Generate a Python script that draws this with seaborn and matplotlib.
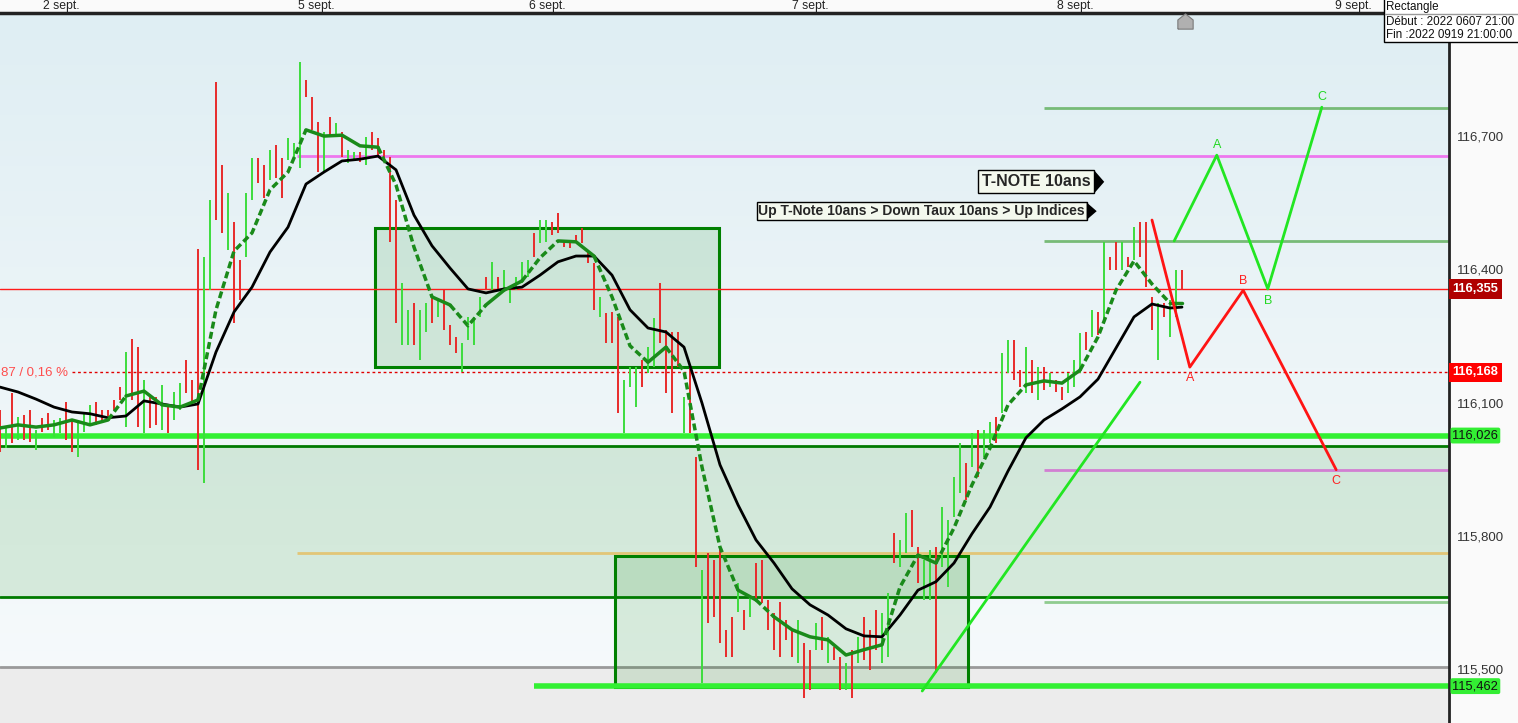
import numpy as np
import matplotlib
matplotlib.use("Agg")
import matplotlib.pyplot as plt
import seaborn as sns
from matplotlib.colors import LinearSegmentedColormap
from matplotlib.patches import Rectangle, Polygon
from matplotlib.lines import Line2D
from matplotlib.path import Path

# ---------------- data (T-Note 10 ans, bars every ~30 min) ----------------
highs = [
    116.084, 116.045, 116.122, 116.068, 116.072, 116.084, 116.039, 116.065, 116.077, 116.061,
    116.065, 116.101, 116.061, 116.061, 116.079, 116.095, 116.101, 116.084, 116.084, 116.106,
    116.135, 116.214, 116.243, 116.225, 116.151, 116.117, 116.113, 116.140, 116.095, 116.124,
    116.144, 116.196, 116.151, 116.446, 116.428, 116.556, 116.821, 116.635, 116.572, 116.507,
    116.421, 116.572, 116.650, 116.650, 116.635, 116.668, 116.680, 116.650, 116.696, 116.684,
    116.867, 116.826, 116.788, 116.731, 116.709, 116.743, 116.729, 116.709, 116.668, 116.664,
    116.664, 116.698, 116.709, 116.696, 116.668, 116.653, 116.556, 116.369, 116.309, 116.324,
    116.309, 116.324, 116.338, 116.336, 116.353, 116.275, 116.248, 116.234, 116.293, 116.293,
    116.338, 116.383, 116.417, 116.383, 116.399, 116.353, 116.383, 116.417, 116.421, 116.482,
    116.511, 116.511, 116.507, 116.527, 116.461, 116.461, 116.477, 116.493, 116.444, 116.414,
    116.338, 116.302, 116.304, 116.293, 116.151, 116.180, 116.180, 116.196, 116.225, 116.291,
    116.369, 116.264, 116.259, 116.259, 116.113, 116.180, 115.978, 115.724, 115.762, 115.746,
    115.775, 115.589, 115.618, 115.694, 115.634, 115.663, 115.739, 115.746, 115.656, 115.627,
    115.652, 115.611, 115.589, 115.611, 115.559, 115.544, 115.604, 115.618, 115.573, 115.550,
    115.528, 115.514, 115.544, 115.573, 115.618, 115.589, 115.634, 115.627, 115.672, 115.807,
    115.791, 115.852, 115.859, 115.775, 115.746, 115.769, 115.775, 115.865, 115.836, 115.933,
    116.009, 115.964, 116.032, 116.039, 116.039, 116.057, 116.068, 116.212, 116.241, 116.241,
    116.173, 116.225, 116.196, 116.180, 116.180, 116.167, 116.151, 116.135, 116.167, 116.196,
    116.257, 116.259, 116.309, 116.304, 116.461, 116.428, 116.461, 116.461, 116.428, 116.495,
    116.507, 116.507, 116.338, 116.324, 116.324, 116.331, 116.399, 116.399,
]
lows = [
    115.989, 115.998, 116.009, 116.016, 116.016, 116.012, 115.994, 116.034, 116.039, 116.023,
    116.032, 116.016, 115.989, 115.978, 116.034, 116.050, 116.050, 116.057, 116.070, 116.084,
    116.106, 116.045, 116.106, 116.045, 116.032, 116.043, 116.050, 116.039, 116.032, 116.061,
    116.084, 116.122, 116.095, 115.949, 115.919, 116.353, 116.511, 116.482, 116.444, 116.279,
    116.331, 116.428, 116.556, 116.594, 116.561, 116.601, 116.606, 116.561, 116.646, 116.653,
    116.628, 116.788, 116.714, 116.619, 116.619, 116.698, 116.702, 116.653, 116.639, 116.646,
    116.641, 116.635, 116.668, 116.653, 116.650, 116.461, 116.279, 116.230, 116.230, 116.230,
    116.196, 116.259, 116.279, 116.293, 116.264, 116.230, 116.212, 116.169, 116.241, 116.230,
    116.293, 116.353, 116.353, 116.353, 116.349, 116.324, 116.353, 116.369, 116.383, 116.428,
    116.459, 116.461, 116.477, 116.482, 116.450, 116.448, 116.459, 116.459, 116.414, 116.309,
    116.293, 116.234, 116.234, 116.077, 116.032, 116.135, 116.090, 116.135, 116.167, 116.180,
    116.234, 116.122, 116.077, 116.180, 116.032, 116.032, 115.730, 115.469, 115.604, 115.618,
    115.559, 115.528, 115.528, 115.629, 115.589, 115.618, 115.656, 115.649, 115.589, 115.544,
    115.528, 115.566, 115.528, 115.514, 115.436, 115.454, 115.544, 115.544, 115.514, 115.521,
    115.454, 115.454, 115.436, 115.514, 115.521, 115.499, 115.544, 115.514, 115.528, 115.739,
    115.730, 115.762, 115.775, 115.694, 115.656, 115.656, 115.492, 115.730, 115.685, 115.843,
    115.897, 115.881, 115.955, 115.933, 115.978, 116.009, 116.009, 116.077, 116.167, 116.151,
    116.135, 116.122, 116.122, 116.106, 116.129, 116.135, 116.124, 116.106, 116.122, 116.135,
    116.167, 116.219, 116.248, 116.252, 116.279, 116.399, 116.399, 116.399, 116.405, 116.421,
    116.428, 116.360, 116.264, 116.196, 116.293, 116.248, 116.293, 116.353,
]
direction = ("RGRGRRGRRG" "GRRGGGRRRR" "RGRRGRRGRG" "GRRRGGRRGR" "RGGRRGRRGG"
             "GRRRGRGRGG" "RGRRRRRGGR" "GGRGRRRGGG" "GRGRGGGGGR" "GGRRRRRRRR"
             "GRRRGGGRGG" "RRRRGRRGRR" "RRRGRGRRRR" "RRRGRRGRGR" "RGRGRRRGGR"
             "GGRRGGRGGG" "GRGRGGRGGR" "RGRGRGRRGG" "GRGRGRRGRG" "RRRGRGGR")

# moving averages, one value every 3 bars (last one on the last bar)
ma_long = [
    116.135, 116.124, 116.108, 116.090, 116.079, 116.075, 116.066, 116.070, 116.104, 116.097,
    116.090, 116.097, 116.214, 116.304, 116.360, 116.439, 116.495, 116.592, 116.619, 116.644,
    116.648, 116.655, 116.624, 116.522, 116.453, 116.403, 116.356, 116.347, 116.356, 116.360,
    116.387, 116.417, 116.430, 116.430, 116.387, 116.309, 116.268, 116.259, 116.225, 116.099,
    115.960, 115.870, 115.791, 115.739, 115.681, 115.645, 115.622, 115.591, 115.575, 115.573,
    115.622, 115.678, 115.697, 115.739, 115.805, 115.865, 115.946, 116.021, 116.061, 116.086,
    116.113, 116.153, 116.223, 116.293, 116.322, 116.313, 116.315,
]
ma_short = [
    116.043, 116.050, 116.045, 116.050, 116.061, 116.050, 116.061, 116.115, 116.126, 116.095,
    116.090, 116.106, 116.309, 116.441, 116.482, 116.579, 116.619, 116.714, 116.700, 116.702,
    116.678, 116.675, 116.590, 116.450, 116.338, 116.320, 116.273, 116.320, 116.353, 116.374,
    116.426, 116.464, 116.462, 116.430, 116.338, 116.228, 116.191, 116.225, 116.171, 115.955,
    115.775, 115.678, 115.656, 115.618, 115.589, 115.573, 115.566, 115.532, 115.544, 115.555,
    115.685, 115.757, 115.739, 115.818, 115.915, 115.998, 116.095, 116.140, 116.149, 116.144,
    116.173, 116.248, 116.353, 116.419, 116.367, 116.324, 116.324,
]

price_ticks = [115.5, 115.8, 116.1, 116.4, 116.7]
day_labels = ["2 sept.", "5 sept.", "6 sept.", "7 sept.", "8 sept.", "9 sept."]
day_pos = [10.3, 52.7, 91.2, 135.0, 179.3, 225.5]

# drawings on the chart, as (bar, price)
zone = (115.663, 116.002)
box_1 = (62.5, 119.8, 116.180, 116.493)
box_2 = (102.5, 161.3, 115.460, 115.755)
trend = [(153.7, 115.451), (190.0, 116.146)]
abc_up = [(195.7, 116.464), (202.8, 116.657), (211.3, 116.356), (220.3, 116.765)]
abc_down = [(192.0, 116.511), (198.3, 116.180), (207.2, 116.353), (222.7, 115.949)]
last_price = 116.355
ref_price = 116.168
support_1 = 116.026
support_2 = 115.462

W, H = 1518, 723
YMIN, YMAX = 115.379, 116.977
XMAX = 1449 / 6

sns.set_style("white")
plt.rcParams["font.family"] = ["Liberation Sans", "DejaVu Sans"]

fig = plt.figure(figsize=(W / 100, H / 100), dpi=100)
fig.patch.set_facecolor("#fafafa")
ax = fig.add_axes([0, 0, 1449 / W, 710 / H])

# background gradient
grad = np.linspace(0, 1, 256).reshape(-1, 1)
bg = LinearSegmentedColormap.from_list("bg", ["#dfeef3", "#edf5f8", "#f7fbfc"])
ax.imshow(grad, extent=[0, XMAX, YMIN, YMAX], origin="upper", aspect="auto", cmap=bg, zorder=0)
ax.axhspan(YMIN, 115.505, color="#ececec", zorder=0.5, lw=0)
ax.axhline(115.505, color="#9a9a9a", lw=2, zorder=1)

# zones
shade = (0, 0.5, 0, 0.12)
ax.axhspan(zone[0], zone[1], fc=shade, ec="none", zorder=1)
ax.axhline(zone[1], color="#007a00", lw=2, zorder=2)
ax.axhline(zone[0], color="#007a00", lw=2, zorder=2)
for x0, x1, y0, y1 in (box_1, box_2):
    ax.add_patch(Rectangle((x0, y0), x1 - x0, y1 - y0, fc=shade, ec="#008000", lw=2.2, zorder=2))

# horizontal levels
ax.hlines(116.655, 49.5, XMAX, color="#ee77ee", lw=2, zorder=2)
ax.hlines(115.762, 49.5, XMAX, color="#e2c677", lw=2, zorder=2)
ax.hlines([116.763, 116.464], 174, XMAX, color="#77bb77", lw=2, zorder=2)
ax.hlines(115.652, 174, XMAX, color="#8fcc8f", lw=2, zorder=2)
ax.hlines(115.949, 174, XMAX, color="#d27fd2", lw=2, zorder=2)
ax.axhline(support_1, color="#33f033", lw=4, zorder=2)
ax.hlines(support_2, 89, XMAX, color="#33f033", lw=4, zorder=2)
ax.axhline(last_price, color="#ff1a1a", lw=1, zorder=2)
ax.hlines(ref_price, 12, XMAX, color="#e00000", lw=1, linestyles=(0, (2, 2)), zorder=2)
ax.text(0.1, ref_price, "87 / 0,16 %", color="#ff4d4d", fontsize=9.5, va="center", ha="left", zorder=3)

# price bars
bars_x = np.arange(len(highs))
bar_colors = ["#3ddc3d" if d == "G" else "#e82a2a" for d in direction]
ax.vlines(bars_x, lows, highs, colors=bar_colors, lw=1.4, zorder=4)

# moving averages
ma_x = np.r_[np.arange(0, 196, 3), len(highs) - 1]
sns.lineplot(x=ma_x, y=ma_long, color="black", lw=2, sort=False, estimator=None, ax=ax, zorder=5)

ma_s = np.array(ma_short)
steep = np.abs(np.diff(ma_s)) > 0.036
start = 0
for k in range(1, len(steep) + 1):
    if k == len(steep) or steep[k] != steep[start]:
        ls = (0, (2, 1)) if steep[start] else "-"
        sns.lineplot(x=ma_x[start:k + 1], y=ma_s[start:k + 1], color="#1a8a1a", lw=2.5,
                     linestyle=ls, sort=False, estimator=None, ax=ax, zorder=5.5)
        start = k

# trend line and ABC projections
tx, ty = zip(*trend)
ax.plot(tx, ty, color="#22e622", lw=2, zorder=6)
ux, uy = zip(*abc_up)
ax.plot(ux, uy, color="#22e622", lw=2, zorder=6)
dx, dy = zip(*abc_down)
ax.plot(dx, dy, color="#ff1414", lw=2, zorder=6)
for (x, y), lab, off in zip(abc_up[1:], "ABC", (7, -9, 7)):
    ax.annotate(lab, (x, y), xytext=(0, off), textcoords="offset points", ha="center",
                va="center", color="#22d822", fontsize=9, zorder=7)
for (x, y), lab, off in zip(abc_down[1:], "ABC", (-8, 7, -8)):
    ax.annotate(lab, (x, y), xytext=(0, off), textcoords="offset points", ha="center",
                va="center", color="#ff2020", fontsize=9, zorder=7)

# labels with arrow heads
t1 = ax.text(163.6, 116.597, "T-NOTE 10ans", fontsize=11.5, fontweight="bold", ha="left", va="center",
             bbox=dict(boxstyle="square,pad=0.25", fc="#f4f9ee", ec="black", lw=1), zorder=8)
t2 = ax.text(126.4, 116.531, "Up T-Note 10ans > Down Taux 10ans > Up Indices", fontsize=10,
             fontweight="bold", ha="left", va="center",
             bbox=dict(boxstyle="square,pad=0.12", fc="#f4f9ee", ec="black", lw=1), zorder=8)

# house marker at the top
house = Path([(-1, -1), (1, -1), (1, 0.2), (0, 1), (-1, 0.2), (-1, -1)])
ax.plot([197.5], [116.958], marker=house, ms=11, mfc="#b0b0b0", mec="#7a7a7a", mew=0.8, zorder=8,
        clip_on=False)

ax.set_xlim(0, XMAX)
ax.set_ylim(YMIN, YMAX)
ax.set_xlabel("")
ax.set_ylabel("")

ax.yaxis.tick_right()
ax.set_yticks(price_ticks)
ax.set_yticklabels([f"{v:.3f}".replace(".", ",") for v in price_ticks])
ax.tick_params(axis="y", length=0, pad=6, labelsize=9.5, labelcolor="#333333")
ax.xaxis.tick_top()
ax.set_xticks(day_pos)
ax.set_xticklabels(day_labels)
ax.tick_params(axis="x", length=0, pad=1.0, labelsize=8.8, labelcolor="#222222")
for s in ("left", "bottom"):
    ax.spines[s].set_visible(False)
ax.spines["top"].set_color("#222222")
ax.spines["top"].set_linewidth(2.5)
ax.spines["right"].set_color("#222222")
ax.spines["right"].set_linewidth(2)

# price badges on the right axis
badges = [
    (last_price, "#b00000", "white", "bold", "square,pad=0.3"),
    (ref_price, "#ff0000", "white", "bold", "square,pad=0.3"),
    (support_1, "#33ee33", "#111111", "normal", "round,pad=0.15"),
    (support_2, "#33ee33", "#111111", "normal", "round,pad=0.15"),
]
for price, fc, tc, fw, bs in badges:
    ax.annotate(f"{price:.3f}".replace(".", ","), xy=(1, price), xycoords=("axes fraction", "data"),
                xytext=(2.5, 0), textcoords="offset points", ha="left", va="center", fontsize=9.3,
                color=tc, fontweight=fw, bbox=dict(boxstyle=bs, fc=fc, ec="none"),
                annotation_clip=False, zorder=9)

# arrow heads after the two text boxes
fig.canvas.draw()
renderer = fig.canvas.get_renderer()
inv = ax.transData.inverted()
for t in (t1, t2):
    bb = t.get_bbox_patch().get_window_extent(renderer)
    pts = [(bb.x1, bb.y1), (bb.x1 + 10, (bb.y0 + bb.y1) / 2), (bb.x1, bb.y0)]
    ax.add_patch(Polygon(inv.transform(pts), closed=True, fc="black", ec="none", zorder=8))

# drawing info box (top right)
fig.patches.append(Rectangle((1384 / W, 1 - 42 / H), (W - 1384) / W + 0.01, 42 / H + 0.01,
                             transform=fig.transFigure, fc="white", ec="black", lw=1, zorder=10))
fig.add_artist(Line2D([1385 / W, 1], [1 - 14 / H] * 2, color="#9a9a9a", lw=1, zorder=11))
for yy, txt in ((7, "Rectangle"), (22, "Début : 2022 0607 21:00"), (35, "Fin :2022 0919 21:00:00")):
    fig.text(1386 / W, 1 - yy / H, txt, fontsize=8.4, va="center", ha="left", color="#111111", zorder=11)

fig.savefig("out.png", dpi=100, facecolor=fig.get_facecolor())
